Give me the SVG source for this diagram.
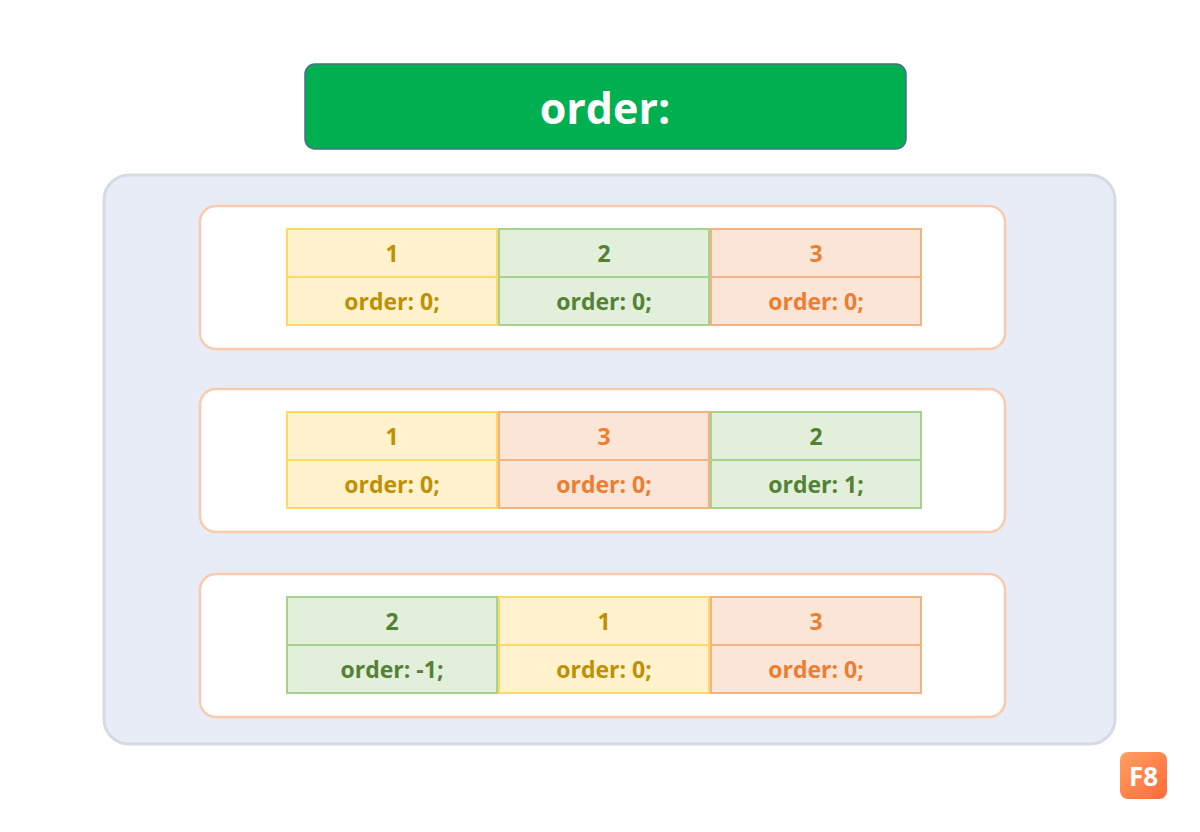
<svg xmlns="http://www.w3.org/2000/svg" width="1200" height="832" viewBox="0 0 1200 832">
<style>
text{font-family:"Open Sans","Noto Sans","Liberation Sans",sans-serif;font-weight:bold;text-anchor:middle}
.y{fill:#fff2cc;stroke:#ffd966;stroke-width:2}
.g{fill:#e2efda;stroke:#a9d18e;stroke-width:2}
.o{fill:#fbe5d6;stroke:#f4b183;stroke-width:2}
.ty{fill:#bf9000;font-size:23px}
.tg{fill:#548235;font-size:23px}
.to{fill:#ed7d31;font-size:23px}
.row{fill:#fff;stroke:#f8cbad;stroke-width:2.5}
</style>
<rect width="1200" height="832" fill="#fff"/>
<g id="title"><rect x="305" y="64" width="601" height="85" rx="10" fill="#00b050" stroke="#4a6f8a" stroke-width="1.5"/><text x="605" y="124" fill="#fff" font-size="43">order:</text></g>
<g id="outer"><rect x="104" y="175" width="1011" height="569" rx="25" fill="#e8ecf6" stroke="#d5dae4" stroke-width="3"/></g>
<g id="row1"><rect class="row" x="200" y="206" width="805" height="143" rx="16"/>
<rect class="y" x="287" y="229" width="210" height="48"/><rect class="y" x="287" y="277" width="210" height="48"/>
<rect class="g" x="499" y="229" width="210" height="48"/><rect class="g" x="499" y="277" width="210" height="48"/>
<rect class="o" x="711" y="229" width="210" height="48"/><rect class="o" x="711" y="277" width="210" height="48"/>
<text class="ty" x="392" y="262">1</text><text class="ty" x="392" y="310">order: 0;</text>
<text class="tg" x="604" y="262">2</text><text class="tg" x="604" y="310">order: 0;</text>
<text class="to" x="816" y="262">3</text><text class="to" x="816" y="310">order: 0;</text></g>
<g id="row2"><rect class="row" x="200" y="389" width="805" height="143" rx="16"/>
<rect class="y" x="287" y="412" width="210" height="48"/><rect class="y" x="287" y="460" width="210" height="48"/>
<rect class="o" x="499" y="412" width="210" height="48"/><rect class="o" x="499" y="460" width="210" height="48"/>
<rect class="g" x="711" y="412" width="210" height="48"/><rect class="g" x="711" y="460" width="210" height="48"/>
<text class="ty" x="392" y="445">1</text><text class="ty" x="392" y="493">order: 0;</text>
<text class="to" x="604" y="445">3</text><text class="to" x="604" y="493">order: 0;</text>
<text class="tg" x="816" y="445">2</text><text class="tg" x="816" y="493">order: 1;</text></g>
<g id="row3"><rect class="row" x="200" y="574" width="805" height="143" rx="16"/>
<rect class="g" x="287" y="597" width="210" height="48"/><rect class="g" x="287" y="645" width="210" height="48"/>
<rect class="y" x="499" y="597" width="210" height="48"/><rect class="y" x="499" y="645" width="210" height="48"/>
<rect class="o" x="711" y="597" width="210" height="48"/><rect class="o" x="711" y="645" width="210" height="48"/>
<text class="tg" x="392" y="630">2</text><text class="tg" x="392" y="678">order: -1;</text>
<text class="ty" x="604" y="630">1</text><text class="ty" x="604" y="678">order: 0;</text>
<text class="to" x="816" y="630">3</text><text class="to" x="816" y="678">order: 0;</text></g>
<g id="connectors"/>
<g id="logo"><defs><linearGradient id="lg" x1="0" y1="0" x2="1" y2="1"><stop offset="0" stop-color="#ffa060"/><stop offset="1" stop-color="#ff6a3a"/></linearGradient></defs>
<rect x="1120" y="752" width="47" height="47" rx="8" fill="url(#lg)"/><text x="1143.5" y="786" fill="#fff" font-size="26" font-family="Liberation Sans,sans-serif">F8</text></g>
</svg>
